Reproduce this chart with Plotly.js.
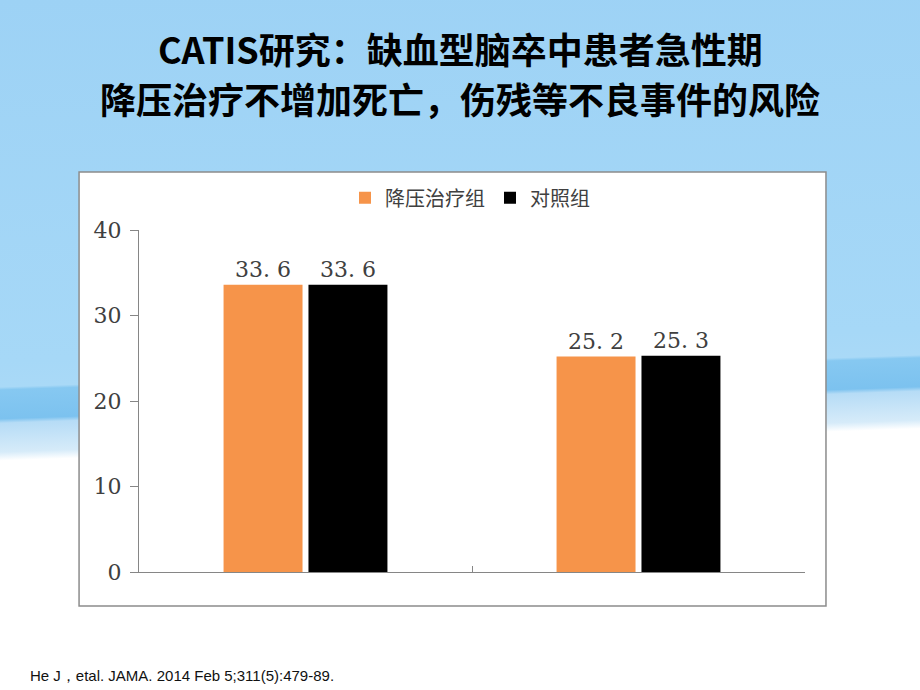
<!DOCTYPE html>
<html>
<head>
<meta charset="utf-8">
<script src="https://cdn.plot.ly/plotly-3.0.1.min.js"></script>
<style>
    body {
        margin: 0;
        background: linear-gradient(178deg, #9dd2f5 0%, #a6d8f7 50%, #a9d9f7 53.6%, #86c8f1 54%, #7cc2ef 58%, #b6dcf6 58.6%, #d6ebf9 62.6%, #ffffff 63.8%, #ffffff 100%);
    }
    #graph {
        width: 920px;
        height: 690px;
    }
</style>
</head>
<body>
<div id="graph"></div>
<script>
    /*
    * the values
    */
    var categories = ["14天或出院时", "3个月"];
    var treatValues = [33.6, 25.2];
    var controlValues = [33.6, 25.3];
    var seriesNames = ["降压治疗组", "对照组"];
    var yTicks = [0, 10, 20, 30, 40];
    var titleLines = ["CATIS研究：缺血型脑卒中患者急性期", "降压治疗不增加死亡，伤残等不良事件的风险"];

    /*
    * the labels above the bars look like "33. 6" on the slide
    */
    function barLabel(v) {
        return v.toFixed(1).replace(".", ". ");
    }

    /*
    * This funtion will start the proccess that draws the graph
    */
    function drawGraph() {

        var treat, control, data, layout, titleFont;

        treat = {
            x: categories,
            y: treatValues,
            type: "bar",
            name: seriesNames[0],
            marker: {color: "#f6944a"},
            text: treatValues.map(barLabel),
            textposition: "outside",
            cliponaxis: false,
            textfont: {family: "DejaVu Serif", size: 22, color: "#404040"},
            hoverinfo: "none"
        };

        control = {
            x: categories,
            y: controlValues,
            type: "bar",
            name: seriesNames[1],
            marker: {color: "#000000"},
            text: controlValues.map(barLabel),
            textposition: "outside",
            cliponaxis: false,
            textfont: {family: "DejaVu Serif", size: 22, color: "#404040"},
            hoverinfo: "none"
        };

        data = [treat, control];

        titleFont = {family: "Noto Sans CJK SC", size: 36, color: "#000000", weight: "bold"};

        /*
        * white chart box, axes, legend and the slide texts
        */
        layout = {
            width: 920,
            height: 690,
            margin: {l: 139, r: 115, t: 230, b: 118},
            paper_bgcolor: "rgba(0,0,0,0)",
            plot_bgcolor: "rgba(0,0,0,0)",
            barmode: "group",
            bargap: 0.49,
            bargroupgap: 0.07,
            xaxis: {
                showticklabels: false,
                showline: true,
                linecolor: "#868686",
                linewidth: 1,
                ticks: "inside",
                tickson: "boundaries",
                ticklen: 6,
                tickcolor: "#868686",
                showgrid: false,
                zeroline: false
            },
            yaxis: {
                range: [0, 40],
                tickvals: yTicks,
                showline: true,
                linecolor: "#868686",
                linewidth: 1,
                ticks: "outside",
                ticklen: 8,
                tickcolor: "#868686",
                ticklabelstandoff: 4,
                tickfont: {family: "DejaVu Serif", size: 22, color: "#404040"},
                showgrid: false,
                zeroline: false
            },
            legend: {
                orientation: "h",
                x: 0.497,
                xanchor: "center",
                y: 1.094,
                yanchor: "middle",
                font: {family: "Noto Sans CJK SC", size: 20, color: "#404040"},
                bgcolor: "rgba(0,0,0,0)",
                itemwidth: 30,
                tracegroupgap: 0
            },
            shapes: [{
                type: "rect",
                xref: "paper",
                yref: "paper",
                x0: -0.090,
                x1: 1.0315,
                y0: -0.0994,
                y1: 1.1696,
                fillcolor: "#ffffff",
                line: {color: "#8c8c8c", width: 1.5},
                layer: "below"
            }],
            annotations: [{
                text: titleLines[0],
                xref: "paper",
                yref: "paper",
                x: 0.482,
                xanchor: "center",
                y: 1.532,
                yanchor: "middle",
                showarrow: false,
                font: titleFont
            }, {
                text: titleLines[1],
                xref: "paper",
                yref: "paper",
                x: 0.482,
                xanchor: "center",
                y: 1.386,
                yanchor: "middle",
                showarrow: false,
                font: titleFont
            }, {
                text: "He J，etal. JAMA. 2014 Feb 5;311(5):479-89.",
                xref: "paper",
                yref: "paper",
                x: -0.1667,
                xanchor: "left",
                y: -0.304,
                yanchor: "middle",
                showarrow: false,
                font: {family: "Liberation Sans", size: 15, color: "#111111"}
            }]
        };

        Plotly.newPlot("graph", data, layout, {displayModeBar: false, staticPlot: true});
    }

    drawGraph();
</script>
</body>
</html>
